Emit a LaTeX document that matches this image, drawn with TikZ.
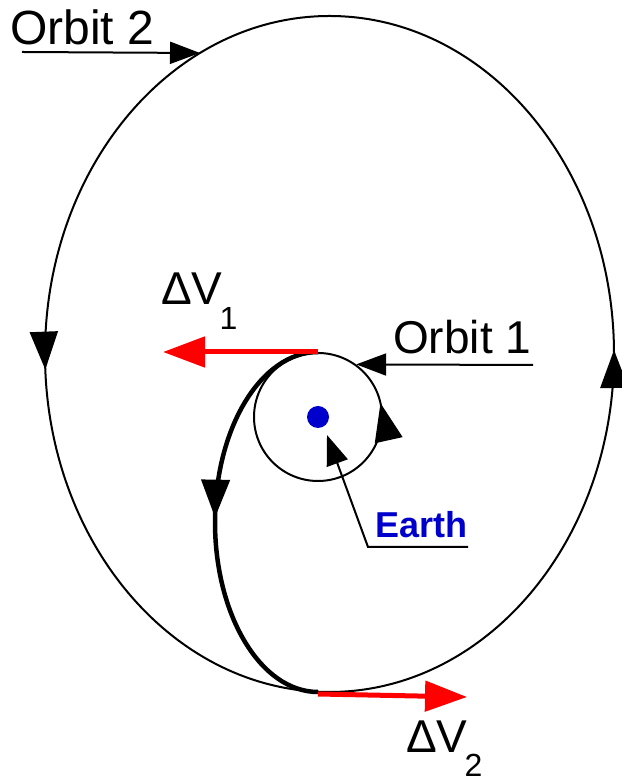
\documentclass[tikz,border=0pt]{standalone}
\usepackage{fontspec}
\setmainfont{Liberation Sans}
\usetikzlibrary{arrows.meta, decorations.markings, calc}
\definecolor{earthblue}{RGB}{0,0,204}

\begin{document}
\begin{tikzpicture}[
    x=1pt, y=1pt,
    orbit/.style={draw=black, line width=2pt},
    transfer/.style={draw=black, line width=4.5pt},
    burn/.style={draw=red, line width=5pt, -{Triangle[length=42pt, width=30pt]}},
    pointer/.style={draw=black, line width=2pt, -{Triangle[length=30pt, width=22pt]}},
    dirmark/.style={postaction={decorate, decoration={markings,
        mark=at position #1 with {\arrow{Triangle[length=38pt, width=28pt]}}}}},
    lbl/.style={anchor=base west, inner sep=0pt, font=\fontsize{46}{50}\selectfont}
]
    \useasboundingbox (0,0) rectangle (621,784);

    %% --- Orbits ---
    \node[circle, fill=earthblue, minimum size=22pt, inner sep=0pt] (earth) at (318,367) {};
    \draw[orbit, dirmark=4pt, dirmark=0.508] (329.5,430) ellipse[x radius=284.5pt, y radius=338pt];
    \draw[orbit, dirmark=14pt] (earth.center) circle[radius=64pt];
    \coordinate (peri) at (318,432);
    \coordinate (apo) at (318,92);
    \draw[transfer, dirmark=0.49] (peri) arc[start angle=90, end angle=270, x radius=103pt, y radius=170pt];

    %% --- Burns ---
    \coordinate (dv1end) at (163,432);
    \coordinate (dv2end) at (467,87);
    \draw[burn] (peri) -- (dv1end);
    \draw[burn] ($(apo)+(0,-2)$) -- (dv2end);

    %% --- Labels ---
    \node[lbl, font=\fontsize{48}{52}\selectfont] (orbit2lbl) at (10,739) {Orbit 2};
    \node[lbl] (orbit1lbl) at (393,430) {Orbit 1};
    \node[lbl] (dv1lbl) at (161,479) {ΔV\kern-3pt\raisebox{-25pt}{\fontsize{32}{34}\selectfont 1}};
    \node[lbl] (dv2lbl) at (406,31) {ΔV\kern-3pt\raisebox{-24pt}{\fontsize{32}{34}\selectfont 2}};
    \node[lbl, font=\bfseries\fontsize{36}{40}\selectfont, text=earthblue] (earthlbl) at (375,246) {Earth};

    %% --- Pointers ---
    \coordinate (o2tail) at (22,732);
    \coordinate (o2tip) at (200,731);
    \coordinate (o1tail) at (533,419);
    \coordinate (o1tip) at ($(earth)+(54:65)$);
    \coordinate (etail) at (468,237);
    \coordinate (ebend) at (368,237);
    \coordinate (etip) at (327,349);
    \draw[pointer] (o2tail) -- (o2tip);
    \draw[pointer] (o1tail) -- (o1tip);
    \draw[pointer] (etail) -- (ebend) -- (etip);
\end{tikzpicture}
\end{document}
